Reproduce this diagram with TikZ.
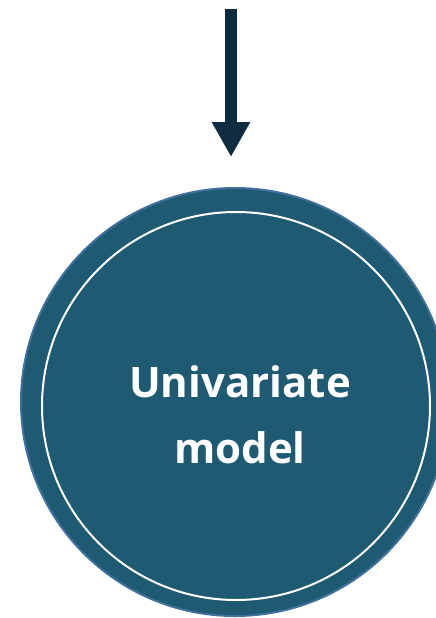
\documentclass[tikz,border=0pt]{standalone}
\usepackage{fontspec}
\setmainfont{Open Sans}
\usetikzlibrary{arrows.meta, positioning}

\definecolor{navy}{HTML}{0F2C40}
\definecolor{teal}{HTML}{1F5A73}
\definecolor{rim}{HTML}{41709C}

\begin{document}
\begin{tikzpicture}[x=1pt, y=-1pt,
    model/.style={circle, draw=rim, line width=2pt, fill=teal, minimum size=428pt, inner sep=0pt, align=center, text=white, text height=122pt, text depth=0pt, font=\fontsize{42}{66}\selectfont\bfseries},
    arrow/.style={-{Triangle[width=36pt, length=35pt]}, line width=12pt, draw=navy}
]
\useasboundingbox (0,0) rectangle (436,618);

% ==== Model ====
\node[model] (univ) at (235,402) {\hspace*{10pt}Univariate\\\hspace*{10pt}model};
\draw[white, line width=2pt] ([xshift=1pt, yshift=-4pt]univ.center) circle (194pt);

% ==== Input ====
\coordinate (input) at (231,9);

% ==== Relations ====
\draw[arrow] (input) -- ([xshift=-4pt, yshift=30pt]univ.north);

\end{tikzpicture}
\end{document}
